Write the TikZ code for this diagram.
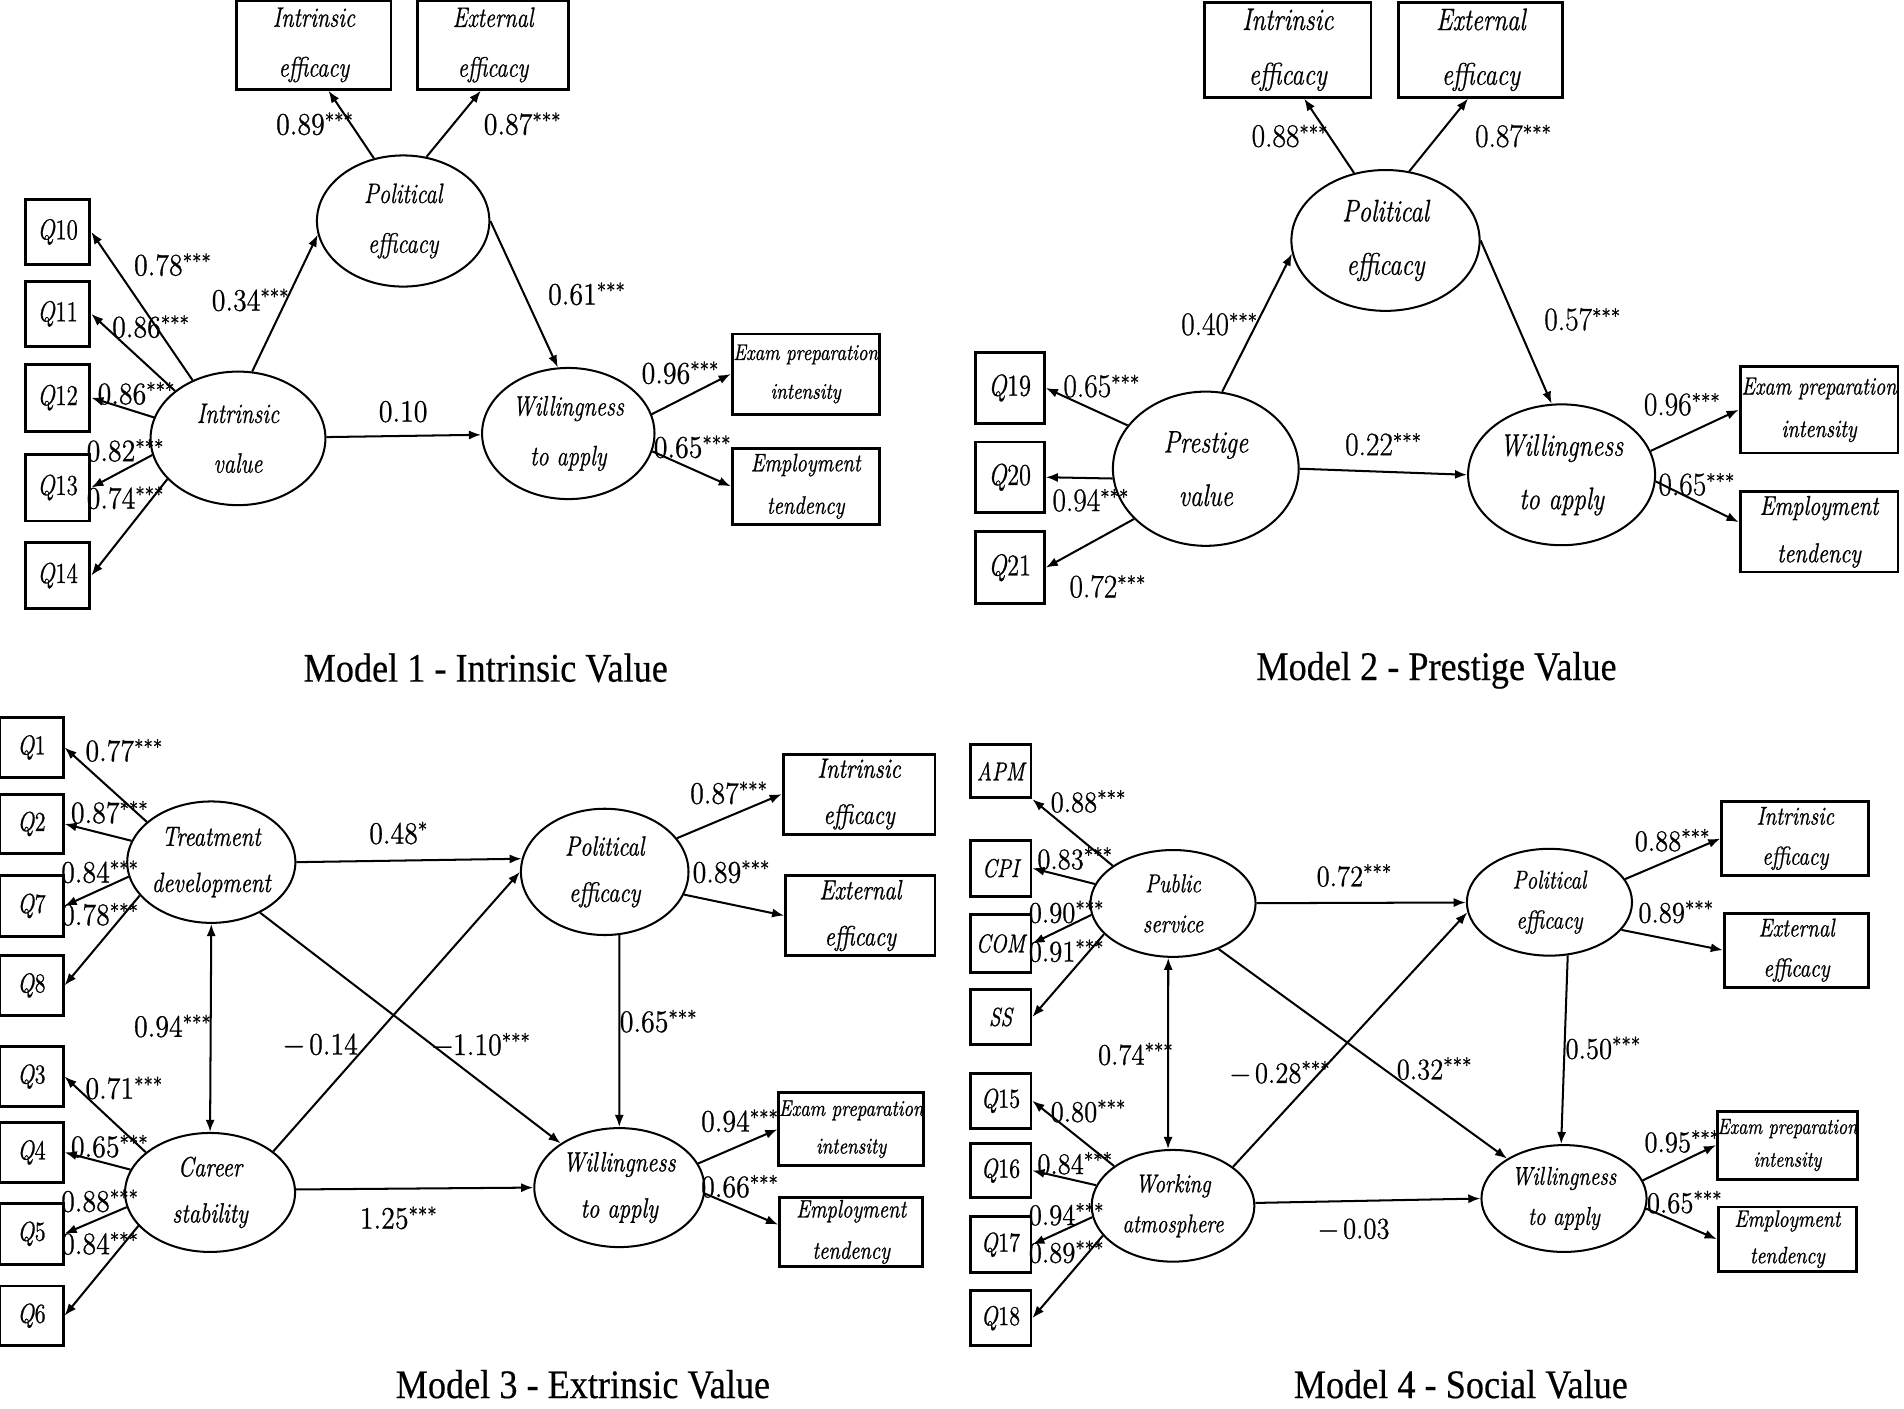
\documentclass[tikz,border=0pt]{standalone}
\usepackage{fontspec}
\usepackage{graphicx}
\setmainfont{Latin Modern Roman}[FakeBold=0.8]
\newfontfamily\ttlfont{Liberation Serif}[FakeBold=0.4]
\usetikzlibrary{shapes.geometric,arrows.meta,calc}
\newcommand\sy[1]{\scalebox{1}[1.25]{#1}}
\newcommand\tl[2]{\sy{#1}\\\sy{#2}}
\newcommand\lb[1]{\scalebox{1}[1.12]{#1}}
\newcommand\sss{\raisebox{3pt}{\fontsize{9}{9}\selectfont ***}}
\newcommand\sone{\raisebox{3pt}{\fontsize{9}{9}\selectfont *}}
\newcommand\qq[1]{\sy{\textit{Q}\textup{#1}}}
\begin{document}
\begin{tikzpicture}[x=0.6pt,y=-0.6pt,
  lat/.style={ellipse,draw,line width=1pt,inner sep=0pt,align=center},
  obs/.style={rectangle,draw,line width=1.4pt,inner sep=0pt,align=center},
  sz/.style 2 args={minimum width=#1*0.6pt,minimum height=#2*0.6pt},
  f/.style 2 args={font=\fontsize{#1}{#2}\selectfont\itshape},
  arr/.style={-{Latex[length=6pt,width=4.5pt]},line width=1pt},
  darr/.style={{Latex[length=6pt,width=4.5pt]}-{Latex[length=6pt,width=4.5pt]},line width=1pt},
  lab/.style={inner sep=0pt,font=\fontsize{13.8}{14}\selectfont},
  labb/.style={inner sep=0pt,font=\fontsize{14.5}{15}\selectfont},
  labd/.style={inner sep=0pt,font=\fontsize{13.2}{14}\selectfont},
  ttl/.style={inner sep=0pt,font=\ttlfont\fontsize{17.9}{18}\selectfont},
]
\useasboundingbox[fill=white] (0,0) rectangle (1568,1160);

%% ================= Model 1 =================
\node[obs,sz={127}{73},f={11.1}{24.6}] (aie) at (258.5,37) {\tl{Intrinsic}{efficacy}};
\node[obs,sz={125}{73},f={11.1}{24.6}] (aee) at (406,37) {\tl{External}{efficacy}};
\node[lat,sz={142}{108},f={11.1}{24.6}] (apol) at (332,182) {\tl{Political}{efficacy}};
\node[lat,sz={144}{110},f={11.1}{24.6}] (aiv) at (196,361) {\tl{Intrinsic}{value}};
\node[lat,sz={142}{108},f={11.1}{24.6}] (awill) at (468,357) {\tl{Willingness}{to apply}};
\node[obs,sz={121}{66},f={9}{19.2}] (aex) at (663.5,308) {\tl{Exam preparation}{intensity}};
\node[obs,sz={121}{63},f={10}{21}] (aem) at (663.5,400.5) {\tl{Employment}{tendency}};
\node[obs,sz={53}{54},f={11.4}{12}] (q10) at (47.5,191) {\qq{10}};
\node[obs,sz={53}{54},f={11.4}{12}] (q11) at (47.5,258.5) {\qq{11}};
\node[obs,sz={53}{55},f={11.4}{12}] (q12) at (47.5,327.5) {\qq{12}};
\node[obs,sz={53}{55},f={11.4}{12}] (q13) at (47.5,401.5) {\qq{13}};
\node[obs,sz={53}{54},f={11.4}{12}] (q14) at (47.5,474) {\qq{14}};

\draw[arr] (apol.115) -- ($(aie.south)+(12,0)$);
\draw[arr] (apol.70) -- ($(aee.south)+(-10,0)$);
\draw[arr] (aiv.78) -- (apol.189);
\draw[arr] (apol.0) -- (awill.99);
\draw[arr] (aiv) -- (awill);
\draw[arr] (awill.13) -- (aex.west);
\draw[arr] (awill.348) -- (aem.west);
\draw[arr] (aiv.128) -- (q10.east);
\draw[arr] (aiv.143) -- (q11.east);
\draw[arr] (aiv.166) -- (q12.east);
\draw[arr] (aiv.191) -- (q13.east);
\draw[arr] (aiv.210) -- (q14.east);

\node[lab] at (259,102) {\lb{0.89\sss}};
\node[lab] at (430,102) {\lb{0.87\sss}};
\node[lab] at (142,218) {\lb{0.78\sss}};
\node[lab] at (206,247) {\lb{0.34\sss}};
\node[lab] at (483,242) {\lb{0.61\sss}};
\node[lab] at (124,269) {\lb{0.86\sss}};
\node[lab] at (112,324) {\lb{0.86\sss}};
\node[lab] at (332,339) {\lb{0.10}};
\node[lab] at (103,371) {\lb{0.82\sss}};
\node[lab] at (103,410) {\lb{0.74\sss}};
\node[lab] at (560,307) {\lb{0.96\sss}};
\node[lab] at (570,368) {\lb{0.65\sss}};
\node[ttl] at (400,550) {\lb{Model 1 - Intrinsic Value}};

%% ================= Model 2 =================
\node[obs,sz={137}{78},f={12.3}{27}] (bie) at (1060.5,41) {\tl{Intrinsic}{efficacy}};
\node[obs,sz={135}{78},f={12.3}{27}] (bee) at (1219.5,41) {\tl{External}{efficacy}};
\node[lat,sz={155}{116},f={12.3}{26.4}] (bpol) at (1141,198) {\tl{Political}{efficacy}};
\node[lat,sz={153}{127},f={12.3}{26.4}] (bpv) at (993,386) {\tl{Prestige}{value}};
\node[lat,sz={154}{116},f={12.3}{26.4}] (bwill) at (1286,391) {\tl{Willingness}{to apply}};
\node[obs,sz={130}{71},f={9.9}{21}] (bex) at (1498,337.5) {\tl{Exam preparation}{intensity}};
\node[obs,sz={130}{66},f={10.8}{23.4}] (bem) at (1498,438) {\tl{Employment}{tendency}};
\node[obs,sz={57}{59},f={12}{12}] (q19) at (831.5,319.5) {\qq{19}};
\node[obs,sz={57}{58},f={12}{12}] (q20) at (831.5,393) {\qq{20}};
\node[obs,sz={57}{59},f={12}{12}] (q21) at (831.5,467.5) {\qq{21}};

\draw[arr] (bpol.115) -- ($(bie.south)+(13.5,0)$);
\draw[arr] (bpol.71) -- ($(bee.south)+(-10.5,0)$);
\draw[arr] (bpv.78) -- (bpol.188);
\draw[arr] (bpol.0) -- (bwill.98);
\draw[arr] (bpv.east) -- (bwill.west);
\draw[arr] (bwill.15) -- (bex.west);
\draw[arr] (bwill.356) -- ($(bem.west)+(0,-8)$);
\draw[arr] (bpv.151) -- (q19.east);
\draw[arr] (bpv.186) -- (q20.east);
\draw[arr] (bpv.215) -- (q21.east);

\node[labb] at (1062,112) {\lb{0.88\sss}};
\node[labb] at (1246,112) {\lb{0.87\sss}};
\node[labb] at (1004,267) {\lb{0.40\sss}};
\node[labb] at (1303,263) {\lb{0.57\sss}};
\node[labb] at (907,318) {\lb{0.65\sss}};
\node[labb] at (898,412) {\lb{0.94\sss}};
\node[labb] at (912,483) {\lb{0.72\sss}};
\node[labb] at (1139,366) {\lb{0.22\sss}};
\node[labb] at (1385,333) {\lb{0.96\sss}};
\node[labb] at (1397,399) {\lb{0.65\sss}};
\node[ttl] at (1183,552) {\lb{Model 2 - Prestige Value}};

%% ================= Model 3 =================
\node[obs,sz={52}{49},f={10.8}{12}] (q1) at (26,615.5) {\qq{1}};
\node[obs,sz={52}{49},f={10.8}{12}] (q2) at (26,678.5) {\qq{2}};
\node[obs,sz={52}{50},f={10.8}{12}] (q7) at (26,746) {\qq{7}};
\node[obs,sz={52}{49},f={10.8}{12}] (q8) at (26,811.5) {\qq{8}};
\node[obs,sz={52}{49},f={10.8}{12}] (q3) at (26,886.5) {\qq{3}};
\node[obs,sz={52}{49},f={10.8}{12}] (q4) at (26,949) {\qq{4}};
\node[obs,sz={52}{50},f={10.8}{12}] (q5) at (26,1016) {\qq{5}};
\node[obs,sz={52}{49},f={10.8}{12}] (q6) at (26,1083.5) {\qq{6}};
\node[lat,sz={138}{100},f={11}{22.8}] (ctd) at (174,710) {\tl{Treatment}{development}};
\node[lat,sz={140}{98},f={11}{22.8}] (ccs) at (173,982) {\tl{Career}{stability}};
\node[lat,sz={138}{104},f={11}{22.8}] (cpol) at (498,718) {\tl{Political}{efficacy}};
\node[lat,sz={140}{98},f={11}{22.8}] (cwill) at (510,978) {\tl{Willingness}{to apply}};
\node[obs,sz={125}{66},f={11}{22.8}] (cie) at (707.5,654) {\tl{Intrinsic}{efficacy}};
\node[obs,sz={123}{66},f={11}{22.8}] (cee) at (708.5,754) {\tl{External}{efficacy}};
\node[obs,sz={118}{60},f={9}{18.6}] (cex) at (701,930) {\tl{Exam preparation}{intensity}};
\node[obs,sz={118}{57},f={10}{20.4}] (cem) at (701,1014.5) {\tl{Employment}{tendency}};

\draw[arr] (ctd.148) -- (q1.east);
\draw[arr] (ctd.165) -- (q2.east);
\draw[arr] (ctd.190) -- (q7.east);
\draw[arr] (ctd.205) -- (q8.east);
\draw[arr] (ccs.148) -- (q3.east);
\draw[arr] (ccs.164) -- (q4.east);
\draw[arr] (ccs.190) -- (q5.east);
\draw[arr] (ccs.205) -- (q6.east);
\draw[arr] (ctd.0) -- (cpol.171);
\draw[arr] (ctd.314) -- (cwill.143);
\draw[darr] (ctd.south) -- (ccs.north);
\draw[arr] (ccs.33) -- (cpol.180);
\draw[arr] (ccs.2) -- (cwill.west);
\draw[arr] (cpol.283) -- (cwill.north);
\draw[arr] (cpol.25) -- (cie.west);
\draw[arr] (cpol.344) -- (cee.west);
\draw[arr] (cwill.17) -- (cex.west);
\draw[arr] (cwill.356) -- ($(cem.west)+(0,-6)$);

\node[lab] at (102,618) {\lb{0.77\sss}};
\node[lab] at (90,669) {\lb{0.87\sss}};
\node[lab] at (82,718) {\lb{0.84\sss}};
\node[lab] at (82,753) {\lb{0.78\sss}};
\node[lab] at (142,845) {\lb{0.94\sss}};
\node[lab] at (102,896) {\lb{0.71\sss}};
\node[lab] at (90,944) {\lb{0.65\sss}};
\node[lab] at (82,989) {\lb{0.88\sss}};
\node[lab] at (82,1024) {\lb{0.84\sss}};
\node[lab] at (328,686) {\lb{0.48\sone}};
\node[lab] at (264,860) {\lb{−\,0.14}};
\node[lab] at (396,860) {\lb{−1.10\sss}};
\node[lab] at (542,841) {\lb{0.65\sss}};
\node[lab] at (600,653) {\lb{0.87\sss}};
\node[lab] at (602,718) {\lb{0.89\sss}};
\node[lab] at (609,923) {\lb{0.94\sss}};
\node[lab] at (609,977) {\lb{0.66\sss}};
\node[lab] at (328,1003) {\lb{1.25\sss}};
\node[ttl] at (480,1140) {\lb{Model 3 - Extrinsic Value}};

%% ================= Model 4 =================
\node[obs,sz={50}{44},f={10.2}{12}] (apm) at (824,635) {\sy{APM}};
\node[obs,sz={50}{46},f={10.2}{12}] (cpi) at (824,715) {\sy{CPI}};
\node[obs,sz={50}{48},f={10.2}{12}] (com) at (824,777) {\sy{COM}};
\node[obs,sz={50}{45},f={10.2}{12}] (ss) at (824,837.5) {\sy{SS}};
\node[obs,sz={50}{45},f={10.8}{12}] (q15) at (824,906.5) {\qq{15}};
\node[obs,sz={50}{44},f={10.8}{12}] (q16) at (824,964) {\qq{16}};
\node[obs,sz={50}{46},f={10.8}{12}] (q17) at (824,1025) {\qq{17}};
\node[obs,sz={50}{45},f={10.8}{12}] (q18) at (824,1085.5) {\qq{18}};
\node[lat,sz={136}{88},f={10.2}{19.8}] (dps) at (966,744) {\tl{Public}{service}};
\node[lat,sz={134}{92},f={10.2}{19.8}] (dwa) at (966,993) {\tl{Working}{atmosphere}};
\node[lat,sz={136}{88},f={10.2}{19.8}] (dpol) at (1276,743) {\tl{Political}{efficacy}};
\node[lat,sz={136}{88},f={10.2}{19.8}] (dwill) at (1288,987) {\tl{Willingness}{to apply}};
\node[obs,sz={121}{61},f={10.2}{19.8}] (die) at (1478.5,690.5) {\tl{Intrinsic}{efficacy}};
\node[obs,sz={119}{61},f={10.2}{19.8}] (dee) at (1479.5,782.5) {\tl{External}{efficacy}};
\node[obs,sz={114}{56},f={8.7}{16.2}] (dex) at (1472,943) {\tl{Exam preparation}{intensity}};
\node[obs,sz={114}{53},f={9.4}{18}] (dem) at (1472,1020.5) {\tl{Employment}{tendency}};

\draw[arr] (dps.148) -- (apm.south east);
\draw[arr] (dps.166) -- (cpi.east);
\draw[arr] (dps.188) -- (com.east);
\draw[arr] (dps.204) -- (ss.east);
\draw[arr] (dwa.146) -- (q15.east);
\draw[arr] (dwa.165) -- (q16.east);
\draw[arr] (dwa.188) -- (q17.east);
\draw[arr] (dwa.203) -- (q18.east);
\draw[arr] (dps) -- (dpol);
\draw[arr] (dps.315) -- (dwill.145);
\draw[darr] (dps.265) -- (dwa.95);
\draw[arr] (dwa.33) -- (dpol.187);
\draw[arr] (dwa.2) -- (dwill.west);
\draw[arr] (dpol.289) -- (dwill.93);
\draw[arr] (dpol.17) -- (die.west);
\draw[arr] (dpol.339) -- (dee.west);
\draw[arr] (dwill.13) -- (dex.west);
\draw[arr] (dwill.353) -- (dem.west);

\node[labd] at (896,660) {\lb{0.88\sss}};
\node[labd] at (885,707) {\lb{0.83\sss}};
\node[labd] at (878,751) {\lb{0.90\sss}};
\node[labd] at (878,783) {\lb{0.91\sss}};
\node[labd] at (935,868) {\lb{0.74\sss}};
\node[labd] at (1054,883) {\lb{−\,0.28\sss}};
\node[labd] at (1181,880) {\lb{0.32\sss}};
\node[labd] at (1320,863) {\lb{0.50\sss}};
\node[labd] at (1115,721) {\lb{0.72\sss}};
\node[labd] at (1377,692) {\lb{0.88\sss}};
\node[labd] at (1380,751) {\lb{0.89\sss}};
\node[labd] at (896,915) {\lb{0.80\sss}};
\node[labd] at (885,958) {\lb{0.84\sss}};
\node[labd] at (878,1000) {\lb{0.94\sss}};
\node[labd] at (878,1031) {\lb{0.89\sss}};
\node[labd] at (1115,1012) {\lb{−\,0.03}};
\node[labd] at (1385,940) {\lb{0.95\sss}};
\node[labd] at (1387,990) {\lb{0.65\sss}};
\node[ttl] at (1203,1140) {\lb{Model 4 - Social Value}};
\end{tikzpicture}
\end{document}
